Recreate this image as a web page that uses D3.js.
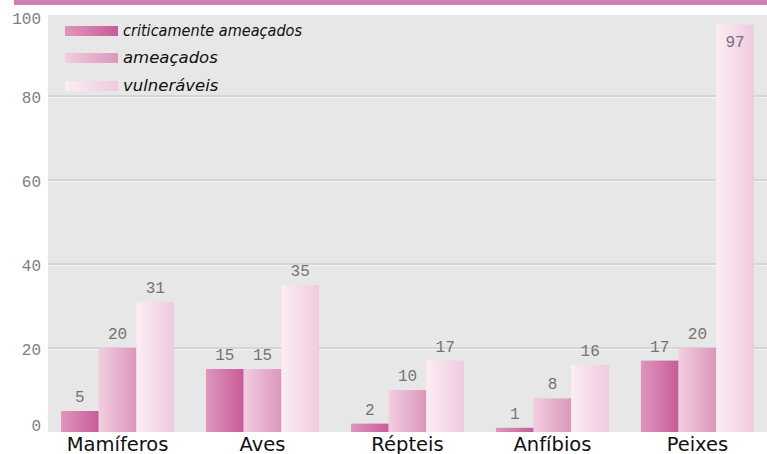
<!DOCTYPE html>
<html>
<head>
<meta charset="utf-8">
<script src="https://cdn.jsdelivr.net/npm/d3@7"></script>
<style>
  html, body { margin: 0; padding: 0; background: #ffffff; }
  svg { display: block; }
</style>
</head>
<body>
<svg id="chart" width="767" height="454"></svg>
<script>
const categories = ["Mamíferos", "Aves", "Répteis", "Anfíbios", "Peixes"];
const seriesNames = ["criticamente ameaçados", "ameaçados", "vulneráveis"];
const criticos = [5, 15, 2, 1, 17];
const ameacados = [20, 15, 10, 8, 20];
const vulneraveis = [31, 35, 17, 16, 97];
const yTicks = [0, 20, 40, 60, 80, 100];

const seriesValues = [criticos, ameacados, vulneraveis];
const gradStops = [
  ["#de97bd", "#c95b98"],
  ["#f2cde0", "#da97bc"],
  ["#fcedf4", "#efcadf"]
];

const W = 767, H = 454;
const plot = { left: 48, right: 767, top: 15, bottom: 432 };
const svg = d3.select("#chart");

// top pink band
svg.append("rect").attr("x", 14).attr("y", 0).attr("width", W - 14).attr("height", 5).attr("fill", "#d07fb1");

// gradients
const defs = svg.append("defs");
gradStops.forEach((s, i) => {
  const g = defs.append("linearGradient").attr("id", "g" + i)
    .attr("x1", "0%").attr("x2", "100%").attr("y1", "0%").attr("y2", "0%");
  g.append("stop").attr("offset", "0%").attr("stop-color", s[0]);
  g.append("stop").attr("offset", "100%").attr("stop-color", s[1]);
});

// background
svg.append("rect").attr("x", plot.left).attr("y", plot.top)
  .attr("width", plot.right - plot.left).attr("height", plot.bottom - plot.top)
  .attr("fill", "#e7e7e7");

const y = d3.scaleLinear().domain([0, 100]).range([432, 12]);
const x0 = d3.scaleBand().domain(categories).range([plot.left, plot.right])
  .paddingInner(0.22).paddingOuter(0.09);
const x1 = d3.scaleBand().domain(seriesNames).range([0, x0.bandwidth()]).padding(0);

// gridlines
const grid = svg.append("g");
yTicks.filter(t => t > 0 && y(t) > plot.top).forEach(t => {
  grid.append("line").attr("x1", plot.left).attr("x2", plot.right)
    .attr("y1", y(t)).attr("y2", y(t)).attr("stroke", "#cfcfcf").attr("stroke-width", 1.5);
  grid.append("line").attr("x1", plot.left).attr("x2", plot.right)
    .attr("y1", y(t) + 1.5).attr("y2", y(t) + 1.5).attr("stroke", "#f3f3f3").attr("stroke-width", 1);
});

// y axis labels
const yAxis = d3.axisLeft(y).tickValues(yTicks).tickSize(0).tickPadding(0).tickFormat(d3.format("d"));
const ya = svg.append("g").attr("transform", "translate(41,0)").call(yAxis);
ya.select(".domain").remove();
ya.selectAll(".tick").attr("transform", d => `translate(0,${Math.max(19, Math.min(426, y(d) + 2))})`);
ya.selectAll("text").attr("font-family", "'Liberation Mono', 'Courier New', monospace")
  .attr("font-size", 16).attr("fill", "#7e7e7e")
  .attr("dy", "0.32em");

// bars
const groups = svg.append("g").selectAll("g").data(categories).join("g")
  .attr("transform", d => `translate(${x0(d)},0)`);

groups.each(function(cat, ci) {
  const g = d3.select(this);
  seriesNames.forEach((s, si) => {
    const v = seriesValues[si][ci];
    g.append("rect").attr("x", x1(s)).attr("y", y(v))
      .attr("width", x1.bandwidth()).attr("height", y(0) - y(v))
      .attr("fill", `url(#g${si})`);
    let ly = y(v) - 9;
    if (ly < plot.top + 20) ly = y(v) + 22;
    g.append("text").attr("x", x1(s) + x1.bandwidth() / 2).attr("y", ly)
      .attr("text-anchor", "middle")
      .attr("font-family", "'Liberation Mono', 'Courier New', monospace")
      .attr("font-size", 16).attr("fill", "#747474")
      .text(v);
  });
});

// category labels
const xAxis = d3.axisBottom(x0).tickSize(0).tickPadding(0);
const xa = svg.append("g").attr("transform", `translate(0,${plot.bottom})`).call(xAxis);
xa.select(".domain").remove();
xa.selectAll("text").attr("font-family", "'DejaVu Sans', Verdana, sans-serif")
  .attr("font-size", 19.5).attr("fill", "#111").attr("dy", 0).attr("y", 18.5);

// legend
const legend = svg.append("g");
const legY = [31, 58, 86];
seriesNames.forEach((s, i) => {
  legend.append("rect").attr("x", 65).attr("y", legY[i] - 5).attr("width", 53).attr("height", 10)
    .attr("fill", `url(#g${i})`);
  const t = legend.append("text").attr("x", 123).attr("y", legY[i] + 5)
    .attr("font-family", "'DejaVu Sans', Verdana, sans-serif")
    .attr("font-style", "italic").attr("fill", "#111")
    .attr("font-size", i === 0 ? 15 : 16.5)
    .text(s);
  if (i === 0) t.attr("textLength", 179).attr("lengthAdjust", "spacingAndGlyphs");
});
</script>
</body>
</html>
